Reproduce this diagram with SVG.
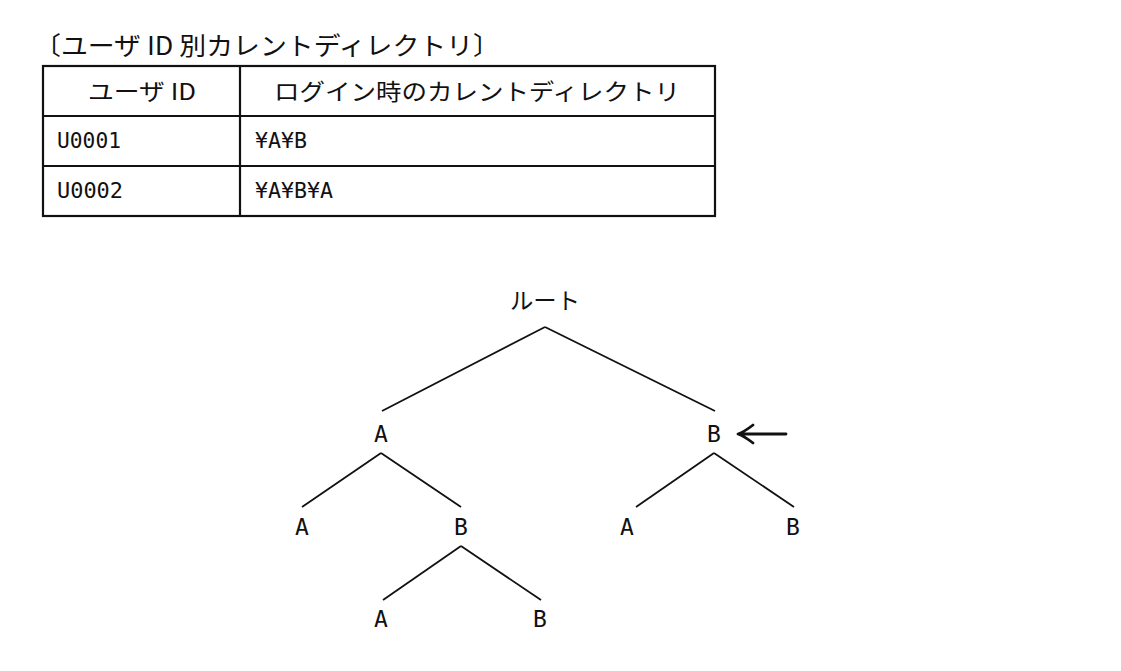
<svg xmlns="http://www.w3.org/2000/svg" width="1121" height="671" viewBox="0 0 1121 671">
<style>
.t{font-family:"Noto Sans CJK JP","Noto Sans",sans-serif;font-size:25px;fill:#111}
.h{font-family:"Noto Sans CJK JP","Noto Sans",sans-serif;font-size:23px;fill:#111}
.m{font-family:"DejaVu Sans Mono","Noto Sans CJK JP",monospace;font-size:22px;fill:#111}
.n{font-family:"DejaVu Sans Mono","Liberation Mono",monospace;font-size:23px;fill:#111;text-anchor:middle}
.l{stroke:#111;stroke-width:1.8;fill:none}
.b{stroke:#111;stroke-width:2.2;fill:none}
</style>
<rect width="1121" height="671" fill="#fff"/>
<g id="title"><text class="t" x="34" y="55" textLength="466" lengthAdjust="spacingAndGlyphs">〔ユーザ ID 別カレントディレクトリ〕</text></g>
<g id="table">
<rect class="b" x="43" y="66" width="672" height="150"/>
<line class="b" x1="43" y1="116" x2="715" y2="116"/>
<line class="b" x1="43" y1="166" x2="715" y2="166"/>
<line class="b" x1="240" y1="66" x2="240" y2="216"/>
<text class="h" x="142" y="100" text-anchor="middle" textLength="108" lengthAdjust="spacingAndGlyphs">ユーザ ID</text>
<text class="h" x="477" y="100" text-anchor="middle" textLength="406" lengthAdjust="spacingAndGlyphs">ログイン時のカレントディレクトリ</text>
<text class="m" x="57" y="148" textLength="64" lengthAdjust="spacingAndGlyphs">U0001</text>
<text class="m" x="255" y="148" textLength="52" lengthAdjust="spacingAndGlyphs">¥A¥B</text>
<text class="m" x="57" y="198" textLength="66" lengthAdjust="spacingAndGlyphs">U0002</text>
<text class="m" x="255" y="198" textLength="78" lengthAdjust="spacingAndGlyphs">¥A¥B¥A</text>
</g>
<g id="connectors">
<line class="l" x1="545" y1="327" x2="382" y2="411"/>
<line class="l" x1="545" y1="327" x2="715" y2="411"/>
<line class="l" x1="381" y1="453" x2="302" y2="507"/>
<line class="l" x1="381" y1="453" x2="461" y2="507"/>
<line class="l" x1="714" y1="453" x2="636" y2="507"/>
<line class="l" x1="714" y1="453" x2="794" y2="507"/>
<line class="l" x1="461" y1="546" x2="383" y2="600"/>
<line class="l" x1="461" y1="546" x2="541" y2="600"/>
<path d="M786 434 H740 M753 425 Q744 432 738 434 Q744 436 753 443" stroke="#111" stroke-width="2.8" fill="none" stroke-linecap="round" stroke-linejoin="round"/>
</g>
<g id="root"><text class="h" x="545" y="309" text-anchor="middle" textLength="70" lengthAdjust="spacingAndGlyphs">ルート</text></g>
<g id="nA"><text class="n" x="381" y="442">A</text></g>
<g id="nB"><text class="n" x="714" y="442">B</text></g>
<g id="nAA"><text class="n" x="302" y="535">A</text></g>
<g id="nAB"><text class="n" x="461" y="535">B</text></g>
<g id="nBA"><text class="n" x="627" y="535">A</text></g>
<g id="nBB"><text class="n" x="793" y="535">B</text></g>
<g id="nABA"><text class="n" x="381" y="627">A</text></g>
<g id="nABB"><text class="n" x="540" y="627">B</text></g>
</svg>
